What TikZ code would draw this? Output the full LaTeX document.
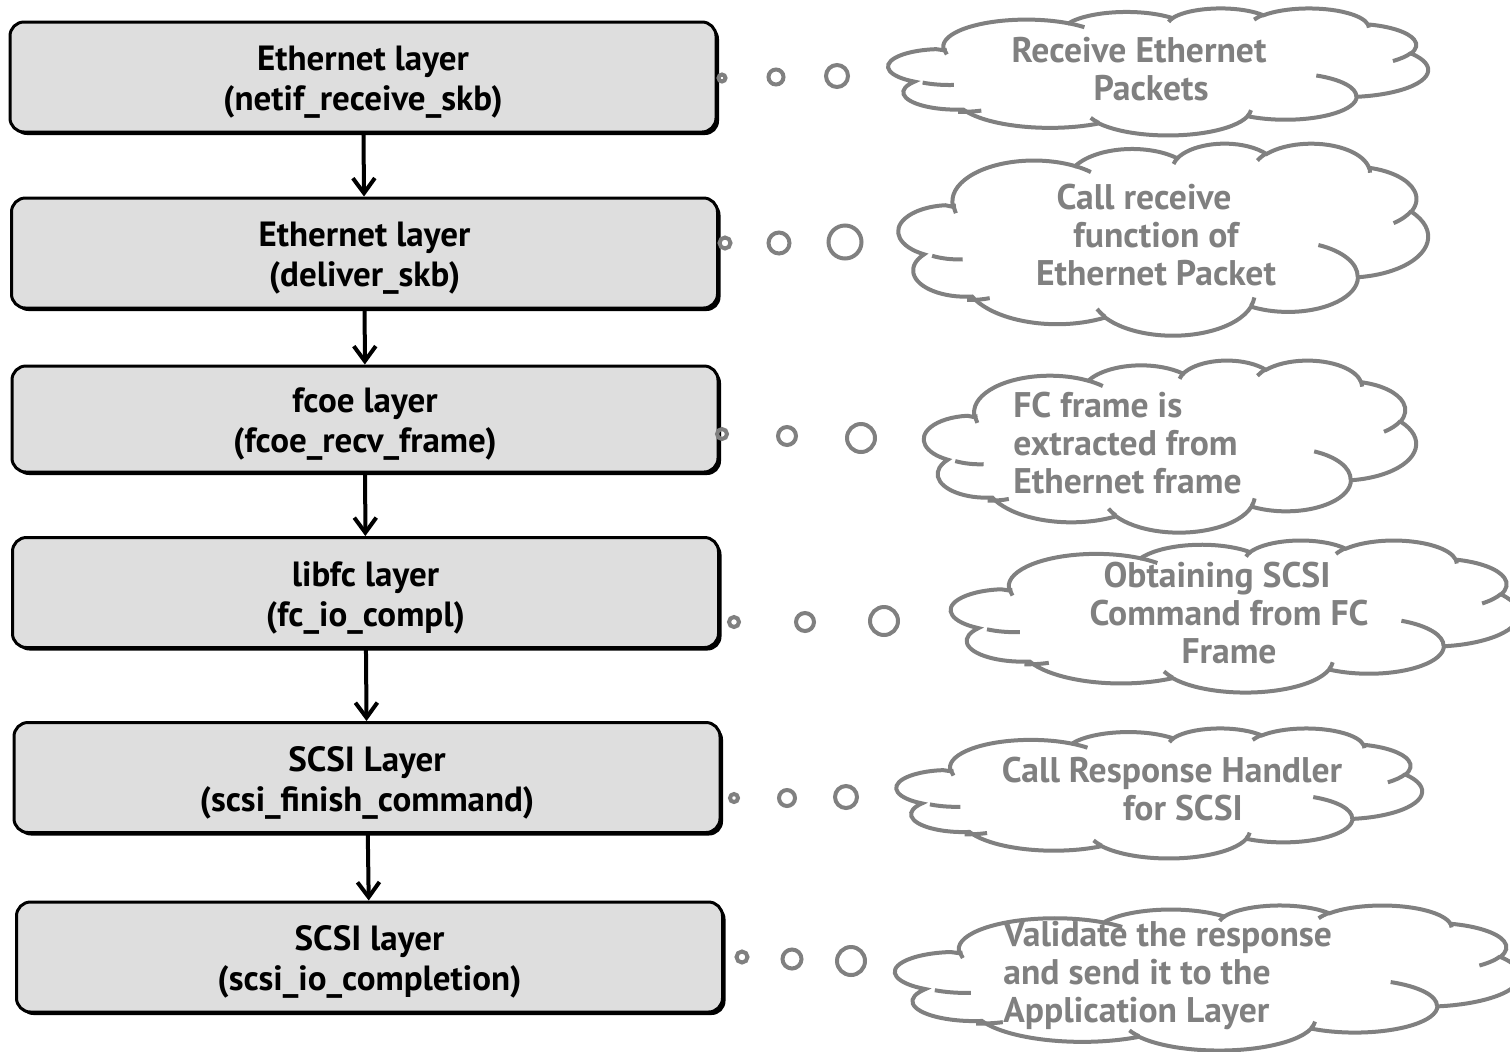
\documentclass[tikz,border=0pt]{standalone}
\usepackage{fontspec}
\setmainfont{PT Sans}
\usetikzlibrary{arrows.meta,shadows}

\definecolor{boxfill}{RGB}{222,222,222}
\definecolor{cloudgray}{RGB}{128,128,128}

\tikzset{
  % elliptical arc given by its visual start angle and sweep (converted to parametric angles)
  declare function={
    visang(\angA,\radW,\radH)=atan2(\radW*sin(\angA),\radH*cos(\angA));
    visdel(\angA,\angS,\radW,\radH)=mod(visang(\angA+\angS,\radW,\radH)-visang(\angA,\radW,\radH)+720,360);
  },
  ca/.style n args={4}{x radius=#1, y radius=#2,
    start angle={visang(#3,#1,#2)}, delta angle={visdel(#3,#4,#1,#2)}},
  layerbox/.style={draw=black, line width=1.5pt, fill=boxfill, rounded corners=7pt,
    minimum width=353pt, minimum height=55pt, align=center,
    font=\fontsize{17.5pt}{20pt}\selectfont\bfseries,
    drop shadow={shadow xshift=1.5pt, shadow yshift=-1.5pt, fill=black, opacity=1}},
  flow/.style={line width=2pt, -{Straight Barb[length=7.5pt, width=11pt]}},
  bub/.style={circle, draw=cloudgray, line width=2pt, inner sep=0pt, outer sep=0pt},
  cloudline/.style={draw=cloudgray, line width=2pt, fill=white},
  cloudtext/.style={text=cloudgray, inner sep=0pt,
    font=\fontsize{17.8pt}{19pt}\selectfont\bfseries},
  cloudpic/.pic={
    \path[cloudline] (3.9,14.37)
      arc[ca={6.753}{9.19}{-190.4875}{123.7805}]
      arc[ca={5.333}{7.267}{-144.1024}{89.9452}]
      arc[ca={4.365}{5.945}{-145.8079}{99.7230}]
      arc[ca={4.857}{6.595}{-130.9861}{117.2417}]
      arc[ca={5.333}{7.273}{-78.7089}{109.0269}]
      arc[ca={6.775}{9.220}{-46.2673}{130.2690}]
      arc[ca={5.785}{7.867}{0.6250}{114.0333}]
      arc[ca={6.752}{9.215}{22.4516}{115.1726}]
      arc[ca={7.720}{10.543}{66.2426}{82.2773}]
      arc[ca={4.360}{5.918}{-274.9421}{141.3015}]
      arc[ca={4.345}{5.945}{-246.8285}{152.5253}]
      -- cycle;
    \draw[draw=cloudgray, line width=2pt]
      (4.693,26.177) arc[ca={4.345}{5.945}{86.7420}{26.4295}]
      (6.928,34.899) arc[ca={4.360}{5.918}{73.6105}{18.9086}]
      (16.478,39.090) arc[ca={6.752}{9.215}{137.6242}{14.0811}]
      (28.827,34.751) arc[ca={6.752}{9.215}{6.4533}{15.9984}]
      (34.129,22.954) arc[ca={5.785}{7.867}{-70.2924}{70.9174}]
      (41.798,15.354) arc[ca={5.333}{7.273}{30.3180}{27.7515}]
      (38.324,5.426) arc[ca={4.857}{6.595}{-13.7443}{14.8589}]
      (29.078,3.952) arc[ca={4.857}{6.595}{-149.1815}{18.1954}]
      (22.141,4.720) arc[ca={4.365}{5.945}{-163.4943}{17.6864}]
      (14.000,5.192) arc[ca={6.753}{9.190}{-66.7070}{12.3194}]
      (4.127,15.789) arc[ca={6.753}{9.190}{162.0476}{17.7910}];
  }
}
% strut that lowers the two-line layer captions a little
\newcommand\capstrut{\rule{0pt}{1em}}

\begin{document}
\begin{tikzpicture}[x=0.5pt, y=-0.5pt]
\useasboundingbox (0,0) rectangle (1510,1051);
\clip (0,0) rectangle (1510,1051);

% thought clouds (top-left corner, then size)
\pic[xscale=532/43.2, yscale=127/43.2] at (896,8) {cloudpic};
\pic[xscale=522/43.2, yscale=192/43.2] at (906,143) {cloudpic};
\pic[xscale=485/43.2, yscale=172/43.2] at (931,360) {cloudpic};
\pic[xscale=560/43.2, yscale=152/43.2] at (959,540) {cloudpic};
\pic[xscale=518/43.2, yscale=130/43.2] at (904,728) {cloudpic};
\pic[xscale=616/43.2, yscale=145/43.2] at (904,905) {cloudpic};

% cloud texts
\node[cloudtext, align=center] (c1) at (1151,69) {Receive Ethernet\hspace*{12pt}\\Packets};
\node[cloudtext, align=center] (c2) at (1156,235.5) {Call receive\hspace*{12pt}\\function of\\Ethernet Packet};
\node[cloudtext, align=left, anchor=west] (c3) at (1013,443) {FC frame is\\extracted from\\Ethernet frame};
\node[cloudtext, align=center] (c4) at (1229,613.5) {Obtaining SCSI\hspace*{12pt}\\Command from FC\\Frame};
\node[cloudtext, align=center] (c5) at (1183,789) {Call Response Handler\hspace*{11pt}\\for SCSI};
\node[cloudtext, align=left, anchor=west] (c6) at (1003,975) {Validate the response\\and send it to the\\Application Layer};

% processing layers
\node[layerbox] (b1) at (363,77) {\capstrut Ethernet layer\\(netif\_receive\_skb)};
\node[layerbox] (b2) at (364.5,253) {\capstrut Ethernet layer\\(deliver\_skb)};
\node[layerbox, minimum height=53pt] (b3) at (365,419) {\capstrut fcoe layer\\(fcoe\_recv\_frame)};
\node[layerbox] (b4) at (365.5,592.5) {\capstrut libfc layer\\(fc\_io\_compl)};
\node[layerbox] (b5) at (367,777.5) {\capstrut SCSI Layer\\(scsi\_finish\_command)};
\node[layerbox] (b6) at (369.5,957) {\capstrut SCSI layer\\(scsi\_io\_completion)};

\draw[flow] (b1) -- (b2);
\draw[flow] (b2) -- (b3);
\draw[flow] (b3) -- (b4);
\draw[flow] (b4) -- (b5);
\draw[flow] (b5) -- (b6);

% thought bubbles between layers and clouds
\node[bub, minimum size=3.5pt] (t1a) at (722,78) {};
\node[bub, minimum size=7.5pt] (t1b) at (776,77) {};
\node[bub, minimum size=11pt] (t1c) at (837,76) {};
\node[bub, minimum size=5.5pt] (t2a) at (725,243) {};
\node[bub, minimum size=10.5pt] (t2b) at (779,243) {};
\node[bub, minimum size=16.5pt] (t2c) at (845,242) {};
\node[bub, minimum size=5pt] (t3a) at (722,434) {};
\node[bub, minimum size=9pt] (t3b) at (787,436) {};
\node[bub, minimum size=14pt] (t3c) at (861,438) {};
\node[bub, minimum size=5pt] (t4a) at (734,622) {};
\node[bub, minimum size=9pt] (t4b) at (805,622) {};
\node[bub, minimum size=14pt] (t4c) at (884,621) {};
\node[bub, minimum size=4pt] (t5a) at (734,798) {};
\node[bub, minimum size=8pt] (t5b) at (787,798) {};
\node[bub, minimum size=11pt] (t5c) at (846,797) {};
\node[bub, minimum size=5.5pt] (t6a) at (742,957) {};
\node[bub, minimum size=9.5pt] (t6b) at (792,959) {};
\node[bub, minimum size=14pt] (t6c) at (851,961) {};
\end{tikzpicture}
\end{document}
